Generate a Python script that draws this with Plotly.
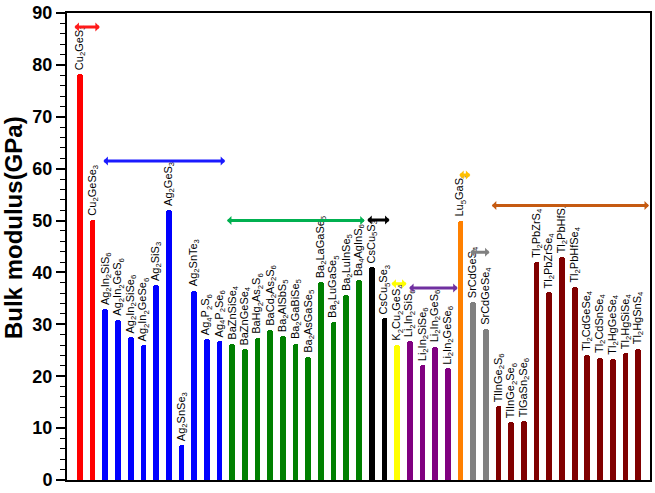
import re
import plotly.graph_objects as go

# ---------------- data ----------------
compounds = [
    "Cu2GeS3", "Cu2GeSe3",
    "Ag2In2SiS6", "Ag2In2GeS6", "Ag2In2SiSe6", "Ag2In2GeSe6", "Ag2SiS3", "Ag2GeS3",
    "Ag2SnSe3", "Ag2SnTe3", "Ag4P2S6", "Ag4P2Se6",
    "BaZnSiSe4", "BaZnGeSe4", "BaHg2As2S6", "BaCd2As2S6", "Ba2AlSbS5", "Ba2GaBiSe5",
    "Ba2AsGaSe5", "Ba2LaGaSe5", "Ba2LuGaSe5", "Ba2LuInSe5", "Ba4AgInS6",
    "CsCu5S3", "CsCu5Se3",
    "K2Cu2GeS4",
    "Li2In2SiS6", "Li2In2SiSe6", "Li2In2GeS6", "Li2In2GeSe6",
    "Lu5GaS9",
    "SrCdGeS4", "SrCdGeSe4",
    "TlInGe2S6", "TlInGe2Se6", "TlGaSn2Se6", "Tl2PbZrS4", "Tl2PbZrSe4", "Tl2PbHfS4",
    "Tl2PbHfSe4", "Tl2CdGeSe4", "Tl2CdSnSe4", "Tl2HgGeSe4", "Tl2HgSiSe4", "Tl2HgSnS4",
]
bulk_modulus = [
    78.3, 50.2,
    32.9, 30.9, 27.5, 26.0, 37.5, 52.0, 6.7, 36.5, 27.2, 26.7,
    26.2, 25.2, 27.4, 28.9, 27.8, 26.3, 23.7, 38.1, 30.4, 35.6, 38.5,
    41.0, 31.2,
    26.0,
    26.7, 22.2, 25.7, 21.5,
    50.0,
    34.3, 29.1,
    14.2, 11.1, 11.4, 42.0, 36.2, 42.9, 37.2, 24.1, 23.6, 23.4, 24.5, 25.3,
]
group_sizes = [2, 10, 11, 2, 1, 4, 1, 2, 12]
bar_colors = ["#ff0000", "#0000ff", "#008000", "#000000", "#ffff00",
              "#800080", "#ff8000", "#808080", "#800000"]
arrow_colors = ["#ff1a1a", "#1a1aff", "#00b050", "#000000", "#ffff00",
                "#7030a0", "#ffc000", "#808080", "#c55a11"]
arrow_start = [-0.55, 1.73, 11.47, 22.53, 24.44, 25.83, 29.78, 30.64, 32.35]
arrow_end = [1.57, 11.45, 22.45, 24.41, 25.75, 29.78, 30.78, 32.29, 44.86]
arrow_level = [87.3, 61.5, 50.0, 50.1, 37.8, 37.0, 58.8, 43.9, 52.9]
y_ticks = [0, 10, 20, 30, 40, 50, 60, 70, 80, 90]

# ---------------- layout geometry ----------------
W, H = 655, 493
ML, MR, MT, MB = 67, 3, 10, 7

colors = []
for size, col in zip(group_sizes, bar_colors):
    colors += [col] * size
xs = list(range(len(compounds)))

fig = go.Figure()
fig.add_trace(go.Bar(
    x=xs, y=bulk_modulus, width=0.45,
    marker=dict(color=colors, line=dict(width=0), cornerradius=3),
    showlegend=False, hoverinfo="skip",
))


def fmt(name):
    return re.sub(r"(\d+)", r"<sub>\1</sub>", name)


annotations = []
for x, v, n in zip(xs, bulk_modulus, compounds):
    annotations.append(dict(
        x=x, y=v, xref="x", yref="y", text=fmt(n), showarrow=False,
        textangle=-90, xanchor="center", yanchor="bottom", yshift=2,
        font=dict(family="Liberation Sans, Arial", size=11, color="#000"),
    ))

for s, e, lv, c in zip(arrow_start, arrow_end, arrow_level, arrow_colors):
    annotations.append(dict(
        x=e, y=lv, ax=s, ay=lv, xref="x", yref="y", axref="x", ayref="y",
        text="", showarrow=True, arrowside="end+start",
        arrowhead=1, startarrowhead=1, arrowsize=0.5, startarrowsize=0.5,
        arrowwidth=3, arrowcolor=c, standoff=0, startstandoff=0,
    ))

# y-axis title placed at page pixel position (14, 229)
title_px, title_py = 14, 229
annotations.append(dict(
    x=(title_px - ML) / (W - ML - MR),
    y=1 - (title_py - MT) / (H - MT - MB),
    xref="paper", yref="paper", text="<b>Bulk modulus(GPa)</b>",
    showarrow=False, textangle=-90, xanchor="center", yanchor="middle",
    font=dict(family="Liberation Sans, Arial", size=24, color="#000"),
))

fig.update_layout(
    width=W, height=H,
    margin=dict(l=ML, r=MR, t=MT, b=MB),
    paper_bgcolor="white", plot_bgcolor="white",
    annotations=annotations,
    bargap=0,
)

fig.update_xaxes(
    range=[-1.02, 44.94], showticklabels=False, ticks="", showgrid=False,
    zeroline=False, showline=True, linewidth=2, linecolor="#000", mirror=True,
)
fig.update_yaxes(
    range=[0, 90], tickvals=y_ticks, ticks="outside", ticklen=9, tickwidth=1.5,
    tickcolor="#000", showgrid=False, zeroline=False, showline=True,
    linewidth=2, linecolor="#000", mirror=True, ticklabeloverflow="allow",
    tickfont=dict(family="Liberation Sans, Arial", size=18, color="#000", weight="bold"),
    minor=dict(dtick=2, ticks="outside", ticklen=5, tickwidth=1.2, tickcolor="#000"),
)

fig.write_html("out.html", config={"displayModeBar": False},
               post_script="document.body.style.margin='0';")
